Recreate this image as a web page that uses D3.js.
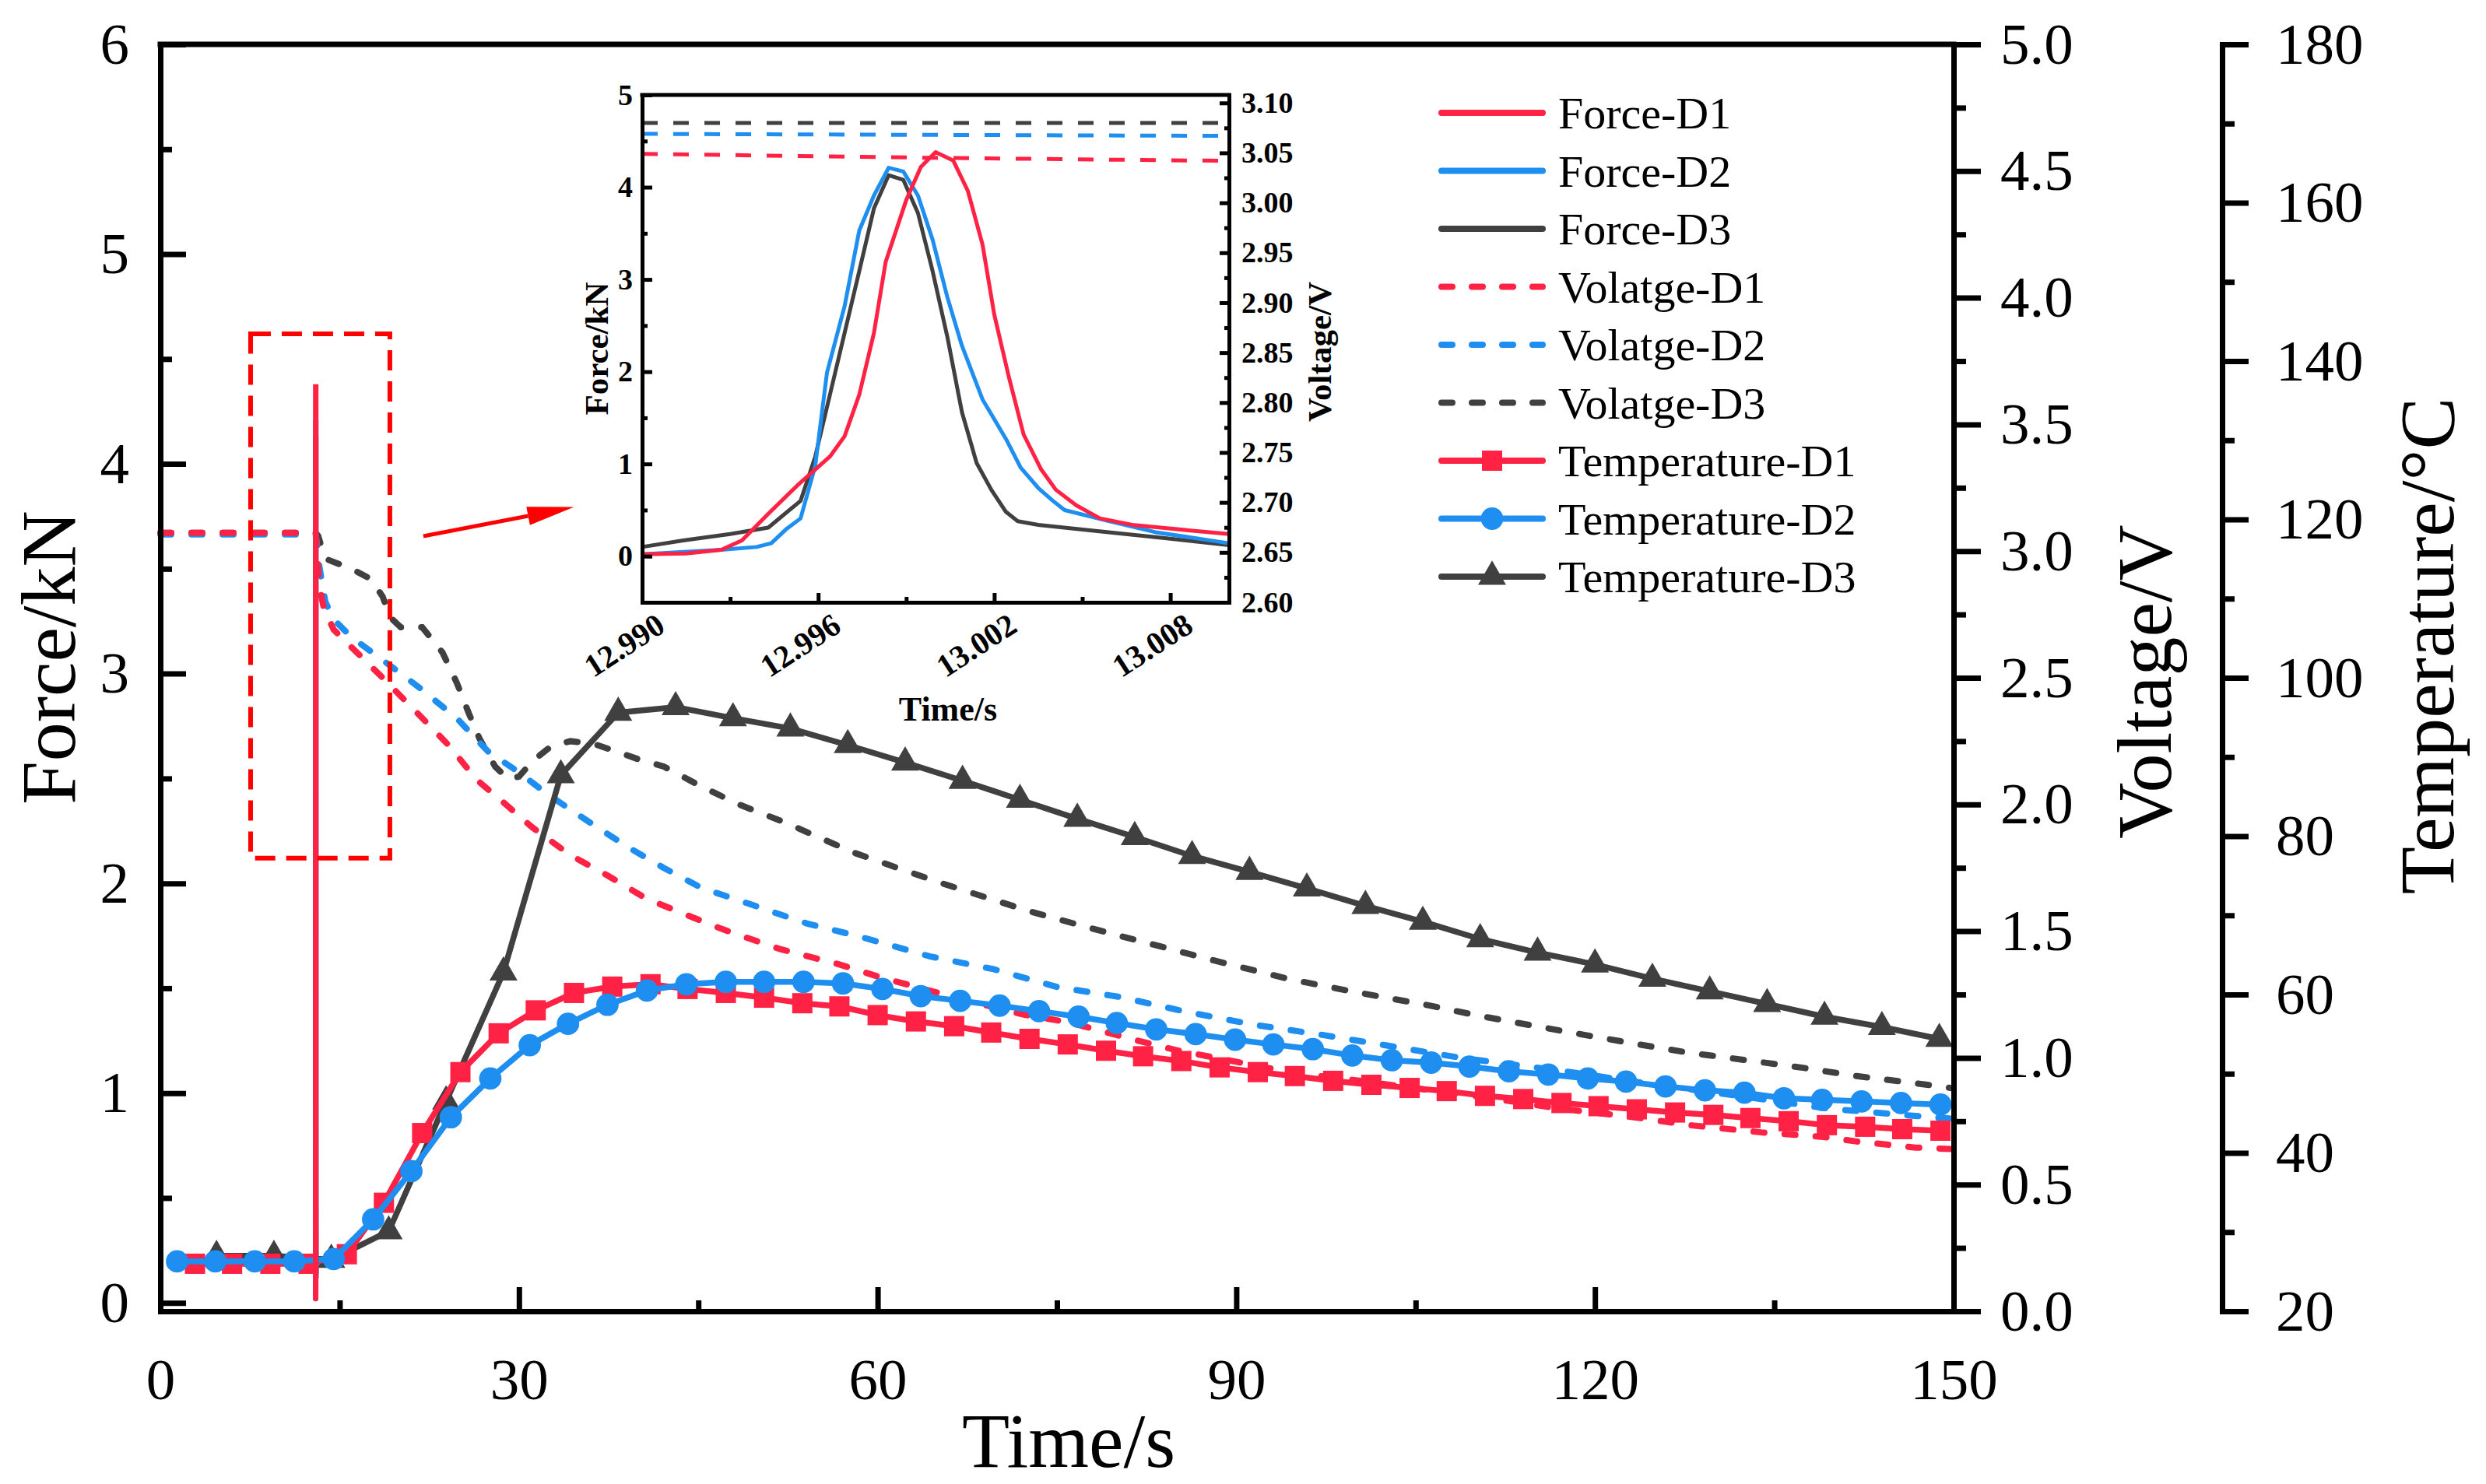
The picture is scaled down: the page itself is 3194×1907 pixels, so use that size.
<!DOCTYPE html>
<html><head><meta charset="utf-8">
<script src="https://cdn.jsdelivr.net/npm/d3@7"></script>
<style>body{margin:0;background:#fff}svg{display:block}</style>
</head><body><svg id="c" width="3194" height="1907"></svg>
<script>
// ---------------- DATA ----------------
// Temperature (°C) vs time (s)
const tTempD1 = [2.9,6.0,9.2,12.4,15.6,18.7,21.9,25.1,28.3,31.4,34.6,37.8,41.0,44.1,47.3,50.5,53.7,56.8,60.0,63.2,66.4,69.5,72.7,75.9,79.1,82.2,85.4,88.6,91.8,94.9,98.1,101.3,104.5,107.6,110.8,114.0,117.2,120.3,123.5,126.7,129.9,133.0,136.2,139.4,142.6,145.7,148.9];
const tempD1  = [26.0,26.0,26.0,26.0,27.2,33.7,42.5,50.2,55.1,58.0,60.2,61.0,61.3,60.7,60.2,59.6,58.9,58.5,57.4,56.6,56.0,55.2,54.4,53.7,52.9,52.2,51.6,50.8,50.2,49.7,49.1,48.6,48.2,47.8,47.2,46.8,46.3,45.9,45.5,45.1,44.8,44.4,44.0,43.5,43.3,43.0,42.8];
const tTempD2 = [1.4,4.6,7.9,11.2,14.5,17.8,21.0,24.3,27.6,30.9,34.1,37.4,40.7,44.0,47.3,50.5,53.8,57.1,60.4,63.6,66.9,70.2,73.5,76.8,80.0,83.3,86.6,89.9,93.1,96.4,99.7,103.0,106.3,109.5,112.8,116.1,119.4,122.6,125.9,129.2,132.5,135.8,139.0,142.3,145.6,148.9];
const tempD2  = [26.3,26.3,26.3,26.3,26.6,31.6,37.7,44.5,49.4,53.6,56.3,58.7,60.5,61.3,61.6,61.6,61.6,61.4,60.7,59.8,59.2,58.6,57.9,57.2,56.4,55.6,55.0,54.3,53.7,53.1,52.3,51.7,51.4,50.9,50.3,49.9,49.4,49.0,48.4,47.9,47.6,46.9,46.7,46.5,46.3,46.1];
const tTempD3 = [4.7,9.5,14.3,19.1,23.9,28.7,33.5,38.3,43.1,47.9,52.7,57.5,62.3,67.1,71.9,76.7,81.5,86.3,91.1,95.9,100.8,105.6,110.4,115.2,120.0,124.8,129.6,134.4,139.2,144.0,148.8];
const tempD3  = [27.0,27.0,26.5,30.1,46.5,62.8,87.7,95.6,96.3,94.9,93.6,91.5,89.3,87.0,84.6,82.2,79.9,77.5,75.5,73.4,71.2,69.2,67.0,65.3,63.8,62.0,60.4,58.8,57.2,55.9,54.4];

// Voltage (V) vs time (s)
const tVoltD1 = [0,13.0,13.3,13.7,14.5,16.0,18.6,21.1,24.2,26.4,28.9,31.1,34.3,37.4,40.6,43.7,46.9,48.7,51.8,56.7,60.1,64.0,68.0,72.3,76.0,81.6,85.0,91.6,94.9,100.3,105.0,110.0,117.0,123.4,128.0,133.9,139.1,141.9,146.8,150];
const voltD1  = [3.072,3.072,2.86,2.77,2.69,2.62,2.50,2.38,2.23,2.10,2.00,1.91,1.80,1.72,1.63,1.57,1.51,1.48,1.43,1.37,1.32,1.27,1.22,1.17,1.14,1.07,1.03,0.97,0.94,0.91,0.88,0.85,0.80,0.765,0.734,0.706,0.688,0.67,0.646,0.64];
const tVoltD2 = [0,13.0,13.3,13.8,14.5,16.0,18.6,21.7,24.8,27.4,29.9,32.4,35.9,39.0,42.1,45.3,48.5,54.1,58.4,64.4,69.7,75.0,80.3,86.0,91.6,97.3,101.4,108.8,117.0,125.0,132.0,139.5,147.0,150];
const voltD2  = [3.066,3.066,2.94,2.80,2.73,2.66,2.57,2.46,2.34,2.21,2.13,2.04,1.93,1.835,1.75,1.67,1.62,1.53,1.48,1.40,1.35,1.28,1.24,1.18,1.13,1.09,1.058,1.0,0.95,0.895,0.85,0.80,0.77,0.76];
const tVoltD3 = [0,13.0,13.2,13.8,16.0,17.6,18.6,19.2,20.1,21.9,23.6,24.8,25.8,26.7,28.0,29.1,30.0,31.1,32.7,34.3,36.2,38.1,39.9,42.1,45.3,48.4,52.2,58.0,65.3,72.6,77.2,81.2,88.5,94.5,99.9,106.0,110.2,114.7,119.2,123.8,127.9,132.8,137.4,141.9,146.8,150];
const voltD3  = [3.072,3.072,3.06,2.97,2.93,2.89,2.82,2.74,2.70,2.70,2.60,2.48,2.36,2.26,2.15,2.10,2.11,2.17,2.23,2.25,2.24,2.21,2.18,2.15,2.07,2.00,1.93,1.81,1.69,1.58,1.52,1.47,1.38,1.31,1.26,1.208,1.167,1.128,1.09,1.052,1.02,0.99,0.961,0.928,0.90,0.88];

// Force (kN) around the impact, 12.990–13.010 s
const tForceD1 = [12.990,12.9915,12.9927,12.9934,12.9943,12.9953,12.9959,12.9964,12.9969,12.9974,12.9979,12.9983,12.9990,12.9995,13.0000,13.0006,13.0011,13.0016,13.0020,13.0025,13.0030,13.0036,13.0041,13.0048,13.0056,13.0067,13.0083,13.0100];
const forceD1  = [0.02,0.03,0.07,0.17,0.46,0.77,0.94,1.08,1.30,1.75,2.42,3.19,3.86,4.22,4.38,4.29,3.96,3.38,2.62,1.94,1.32,0.94,0.72,0.55,0.41,0.34,0.29,0.24];
const tForceD2 = [12.990,12.9927,12.9939,12.9944,12.9949,12.9954,12.9959,12.9963,12.9969,12.9974,12.9979,12.9984,12.9989,12.9994,12.9999,13.0004,13.0009,13.0016,13.0024,13.0029,13.0035,13.0040,13.0044,13.0059,13.0075,13.0100];
const forceD2  = [0.02,0.07,0.10,0.14,0.29,0.41,0.98,1.99,2.71,3.53,3.91,4.21,4.17,3.91,3.43,2.81,2.28,1.70,1.27,0.96,0.74,0.60,0.50,0.38,0.26,0.14];
const tForceD3 = [12.990,12.9914,12.9930,12.9943,12.9954,12.9959,12.9964,12.9969,12.9974,12.9979,12.9984,12.9989,12.9994,12.9999,13.0004,13.0009,13.0014,13.0019,13.0024,13.0028,13.0035,13.0059,13.0080,13.0100];
const forceD3  = [0.10,0.17,0.24,0.31,0.60,1.08,1.75,2.42,3.09,3.77,4.13,4.08,3.72,3.09,2.38,1.56,1.01,0.72,0.48,0.38,0.34,0.26,0.19,0.12];

// Voltage inside the inset window
const tInsetVolt = [12.990,13.000,13.010];
const insetVoltD1 = [3.049,3.045,3.042];
const insetVoltD2 = [3.069,3.068,3.067];
const insetVoltD3 = [3.080,3.080,3.080];

// Tick values / labels
const timeTicks = [0,30,60,90,120,150];
const timeMinor = [15,45,75,105,135];
const forceTicks = [0,1,2,3,4,5,6];
const forceMinor = [0.5,1.5,2.5,3.5,4.5,5.5];
const voltTicks = [0,0.5,1,1.5,2,2.5,3,3.5,4,4.5,5];
const voltMinor = [0.25,0.75,1.25,1.75,2.25,2.75,3.25,3.75,4.25,4.75];
const tempTicks = [20,40,60,80,100,120,140,160,180];
const tempMinor = [30,50,70,90,110,130,150,170];
const insetTimeTicks = [12.990,12.996,13.002,13.008];
const insetTimeMinor = [12.993,12.999,13.005];
const insetForceTicks = [0,1,2,3,4,5];
const insetForceMinor = [-0.5,0.5,1.5,2.5,3.5,4.5];
const insetVoltTicks = [2.60,2.65,2.70,2.75,2.80,2.85,2.90,2.95,3.00,3.05,3.10];
const insetVoltMinor = [2.625,2.675,2.725,2.775,2.825,2.875,2.925,2.975,3.025,3.075];

const legendLabels = ["Force-D1","Force-D2","Force-D3","Volatge-D1","Volatge-D2","Volatge-D3","Temperature-D1","Temperature-D2","Temperature-D3"];

// annotation (data coordinates): zoom box and arrow
const zoomBoxT = [7.55,19.2], zoomBoxF = [2.12,4.62];
const arrowT = [22.0,34.6], arrowF = [3.655,3.794];

// ---------------- DRAWING ----------------
const RED="#FF2244", BLUE="#1E8FF0", GRAY="#404040";
const FONT='"Liberation Serif","Times New Roman",serif';
const svg = d3.select("#c");
svg.append("rect").attr("width",3194).attr("height",1907).attr("fill","#fff");

const x  = d3.scaleLinear([0,150],[206,2510]);
const yF = d3.scaleLinear([-0.04,6],[1685,57]);
const yV = d3.scaleLinear([0,5],[1685,57]);
const yT = d3.scaleLinear([20,180],[1685,57]);

function zipXY(ts, vs){ return ts.map((t,i)=>[t,vs[i]]); }
function styleAxis(g, fs, sw, weight){
  g.attr("font-family",FONT).attr("font-size",fs).attr("font-weight",weight||"normal");
  g.selectAll("path.domain").attr("stroke","#000").attr("stroke-width",sw).attr("stroke-linecap","square");
  g.selectAll(".tick line").attr("stroke","#000").attr("stroke-width",sw);
  g.selectAll(".tick text").attr("fill","#000");
}
function minor(g){ g.select(".domain").remove(); }

// voltage dashed lines (main)
const lineV = d3.line().x(d=>x(d[0])).y(d=>yV(d[1]));
[[tVoltD3,voltD3,GRAY],[tVoltD2,voltD2,BLUE],[tVoltD1,voltD1,RED]].forEach(([t,v,c])=>{
  svg.append("path").attr("d",lineV(zipXY(t,v))).attr("fill","none").attr("stroke",c)
    .attr("stroke-width",8).attr("stroke-dasharray","14,26").attr("stroke-linecap","round");
});

// temperature lines with markers
const lineT = d3.line().x(d=>x(d[0])).y(d=>yT(d[1]));
const symSq = d3.symbol().type(d3.symbolSquare).size(676);
const symCi = d3.symbol().type(d3.symbolCircle).size(650);
const symTr = d3.symbol().type(d3.symbolTriangle).size(560);
[[tTempD3,tempD3,GRAY,symTr],[tTempD1,tempD1,RED,symSq],[tTempD2,tempD2,BLUE,symCi]].forEach(([t,v,c,s])=>{
  const pts = zipXY(t,v);
  svg.append("path").attr("d",lineT(pts)).attr("fill","none").attr("stroke",c).attr("stroke-width",7.5).attr("stroke-linejoin","round");
  svg.append("g").selectAll("path").data(pts).join("path")
    .attr("transform",d=>`translate(${x(d[0])},${yT(d[1])})`).attr("d",s()).attr("fill",c);
});

// force spike in main
const lineFm = d3.line().x(d=>x(d[0])).y(d=>yF(d[1]));
[[tForceD3,forceD3,GRAY],[tForceD2,forceD2,BLUE],[tForceD1,forceD1,RED]].forEach(([t,v,c])=>{
  svg.append("path").attr("d",lineFm(zipXY(t,v))).attr("fill","none").attr("stroke",c).attr("stroke-width",7).attr("stroke-linecap","round");
});

// zoom box
svg.append("rect").attr("x",x(zoomBoxT[0])).attr("y",yF(zoomBoxF[1]))
  .attr("width",x(zoomBoxT[1])-x(zoomBoxT[0])).attr("height",yF(zoomBoxF[0])-yF(zoomBoxF[1]))
  .attr("fill","none").attr("stroke","#FF0000").attr("stroke-width",6).attr("stroke-dasharray","26,14");

// arrow
{
  const x0=x(arrowT[0]), y0=yF(arrowF[0]), x1=x(arrowT[1]), y1=yF(arrowF[1]);
  const L=Math.hypot(x1-x0,y1-y0), ux=(x1-x0)/L, uy=(y1-y0)/L, hl=60, hw=12;
  const bx=x1-ux*hl, by=y1-uy*hl;
  svg.append("line").attr("x1",x0).attr("y1",y0).attr("x2",bx).attr("y2",by).attr("stroke","#FF0000").attr("stroke-width",5);
  svg.append("path").attr("d",`M${x1},${y1}L${bx-uy*hw},${by+ux*hw}L${bx+uy*hw},${by-ux*hw}Z`).attr("fill","#FF0000");
}

// main axes
const AW=7;
svg.append("line").attr("x1",x(0)).attr("x2",x(150)).attr("y1",yF(6)).attr("y2",yF(6)).attr("stroke","#000").attr("stroke-width",AW).attr("stroke-linecap","square");
let g;
g = svg.append("g").attr("transform","translate(0,1685)").call(d3.axisBottom(x).tickValues(timeTicks).tickSize(-31).tickSizeOuter(0).tickPadding(60).tickFormat(d3.format("d")));
styleAxis(g,75,AW);
g = svg.append("g").attr("transform","translate(0,1685)").call(d3.axisBottom(x).tickValues(timeMinor).tickSize(-14).tickFormat(()=>"")); minor(g); styleAxis(g,75,AW);
g = svg.append("g").attr("transform","translate(206,0)").call(d3.axisLeft(yF).tickValues(forceTicks).tickSize(-33).tickSizeOuter(0).tickPadding(40).tickFormat(d3.format("d")));
styleAxis(g,75,AW);
g = svg.append("g").attr("transform","translate(206,0)").call(d3.axisLeft(yF).tickValues(forceMinor).tickSize(-15).tickFormat(()=>"")); minor(g); styleAxis(g,75,AW);
g = svg.append("g").attr("transform","translate(2510,0)").call(d3.axisRight(yV).tickValues(voltTicks).tickSize(35).tickSizeOuter(0).tickPadding(25).tickFormat(d3.format(".1f")));
styleAxis(g,75,AW);
g = svg.append("g").attr("transform","translate(2510,0)").call(d3.axisRight(yV).tickValues(voltMinor).tickSize(16).tickFormat(()=>"")); minor(g); styleAxis(g,75,AW);
g = svg.append("g").attr("transform","translate(2855,0)").call(d3.axisRight(yT).tickValues(tempTicks).tickSize(34).tickSizeOuter(0).tickPadding(35).tickFormat(d3.format("d")));
styleAxis(g,75,AW);
g = svg.append("g").attr("transform","translate(2855,0)").call(d3.axisRight(yT).tickValues(tempMinor).tickSize(16).tickFormat(()=>"")); minor(g); styleAxis(g,75,AW);

// titles
function title(txt,xx,yy,rot,fs,weight){
  svg.append("text").attr("transform",`translate(${xx},${yy}) rotate(${rot})`).attr("text-anchor","middle").attr("dy","0.35em")
    .attr("font-family",FONT).attr("font-size",fs).attr("font-weight",weight||"normal").attr("fill","#000").text(txt);
}
title("Force/kN",61,845,-90,100);
title("Voltage/V",2754,876,-90,100);
title("Temperature/°C",3117,830,-90,100);
title("Time/s",1373,1850,0,100);

// ---------------- INSET ----------------
const ix  = d3.scaleLinear([12.990,13.010],[825,1579]);
const iyF = d3.scaleLinear([-0.5,5],[774,122]);
const iyV = d3.scaleLinear([2.6,3.108],[774,122]);
const IW=5;
svg.append("rect").attr("x",825).attr("y",122).attr("width",1579-825).attr("height",774-122).attr("fill","#fff");
const lineIV = d3.line().x(d=>ix(d[0])).y(d=>iyV(d[1]));
[[insetVoltD3,GRAY],[insetVoltD2,BLUE],[insetVoltD1,RED]].forEach(([v,c])=>{
  svg.append("path").attr("d",lineIV(zipXY(tInsetVolt,v))).attr("fill","none").attr("stroke",c).attr("stroke-width",5).attr("stroke-dasharray","20,20");
});
const lineIF = d3.line().x(d=>ix(d[0])).y(d=>iyF(d[1]));
[[tForceD3,forceD3,GRAY],[tForceD2,forceD2,BLUE],[tForceD1,forceD1,RED]].forEach(([t,v,c])=>{
  svg.append("path").attr("d",lineIF(zipXY(t,v))).attr("fill","none").attr("stroke",c).attr("stroke-width",5).attr("stroke-linejoin","round");
});
svg.append("line").attr("x1",825).attr("x2",1579).attr("y1",122).attr("y2",122).attr("stroke","#000").attr("stroke-width",IW).attr("stroke-linecap","square");
g = svg.append("g").attr("transform","translate(0,774)").call(d3.axisBottom(ix).tickValues(insetTimeTicks).tickSize(-12).tickSizeOuter(0).tickFormat(()=>""));
styleAxis(g,40,IW,"bold");
// rotated inset time labels
svg.append("g").selectAll("text").data(insetTimeTicks).join("text")
  .attr("transform",d=>`translate(${ix(d)+24},${774+24}) rotate(-33)`)
  .attr("text-anchor","end").attr("dy","0.35em")
  .attr("font-family",FONT).attr("font-size",41).attr("font-weight","bold").attr("fill","#000")
  .text(d3.format(".3f"));
g = svg.append("g").attr("transform","translate(0,774)").call(d3.axisBottom(ix).tickValues(insetTimeMinor).tickSize(-7).tickFormat(()=>"")); minor(g); styleAxis(g,38,IW);
g = svg.append("g").attr("transform","translate(825,0)").call(d3.axisLeft(iyF).tickValues(insetForceTicks).tickSize(-13).tickSizeOuter(0).tickPadding(12).tickFormat(d3.format("d")));
styleAxis(g,38,IW,"bold");
g = svg.append("g").attr("transform","translate(825,0)").call(d3.axisLeft(iyF).tickValues(insetForceMinor).tickSize(-7).tickFormat(()=>"")); minor(g); styleAxis(g,38,IW);
g = svg.append("g").attr("transform","translate(1579,0)").call(d3.axisRight(iyV).tickValues(insetVoltTicks).tickSize(-12).tickSizeOuter(0).tickPadding(16).tickFormat(d3.format(".2f")));
styleAxis(g,38,IW,"bold");
g = svg.append("g").attr("transform","translate(1579,0)").call(d3.axisRight(iyV).tickValues(insetVoltMinor).tickSize(-6).tickFormat(()=>"")); minor(g); styleAxis(g,38,IW);
title("Force/kN",766,448,-90,43,"bold");
title("Voltage/V",1695,452,-90,43,"bold");
title("Time/s",1218,911,0,44,"bold");

// ---------------- LEGEND ----------------
const legY = d3.scalePoint().domain(legendLabels).range([145,741]);
const legStyle = [
  {c:RED},{c:BLUE},{c:GRAY},
  {c:RED,dash:true},{c:BLUE,dash:true},{c:GRAY,dash:true},
  {c:RED,sym:symSq},{c:BLUE,sym:symCi},{c:GRAY,sym:symTr}
];
legendLabels.forEach((lab,i)=>{
  const yy=legY(lab), st=legStyle[i];
  const ln = svg.append("line").attr("x1",1852).attr("x2",1982).attr("y1",yy).attr("y2",yy)
    .attr("stroke",st.c).attr("stroke-width",8).attr("stroke-linecap","round");
  if(st.dash) ln.attr("stroke-dasharray","14,25");
  if(st.sym) svg.append("path").attr("transform",`translate(1917,${yy})`).attr("d",st.sym()).attr("fill",st.c);
  svg.append("text").attr("x",2002).attr("y",yy).attr("dy","0.35em").attr("font-family",FONT).attr("font-size",58).attr("fill","#000").text(lab);
});
</script></body></html>
